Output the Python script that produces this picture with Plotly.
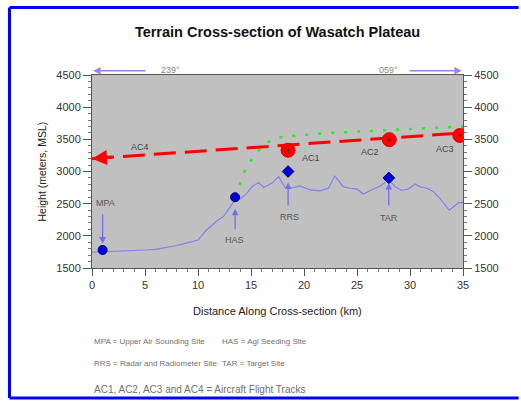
import plotly.graph_objects as go

# ---------------- data ----------------
terrain_km = [0, 1, 2, 3, 4, 5, 6, 7, 8, 9, 10, 10.8, 11.9, 12.4, 13.0, 13.5, 14.0, 14.6, 15.1,
              15.7, 16.2, 17.0, 17.6, 18.2, 18.8, 19.6, 20.6, 21.5, 22.3, 22.9, 23.7, 24.3,
              25.0, 25.6, 26.5, 27.2, 28.0, 28.6, 29.2, 29.8, 30.5, 30.9, 31.6, 32.2, 32.8,
              33.3, 33.7, 34.2, 34.6, 35]
terrain_m = [1745, 1750, 1760, 1770, 1775, 1780, 1790, 1815, 1850, 1890, 1935, 2090, 2246,
             2300, 2450, 2560, 2575, 2660, 2765, 2830, 2755, 2820, 2920, 2755, 2740, 2775,
             2713, 2700, 2740, 2930, 2765, 2740, 2725, 2650, 2725, 2775, 2870, 2765, 2705,
             2725, 2805, 2765, 2740, 2690, 2585, 2480, 2400, 2465, 2515, 2515]

site_names = ["MPA", "HAS", "RRS", "TAR"]
site_km = [1.0, 13.5, 18.5, 28.0]
site_m = [1780, 2600, 3000, 2900]
site_symbols = ["circle", "circle", "diamond", "diamond"]

ac4_km = [0, 35]
ac4_m = [3200, 3600]

ac_names = ["AC1", "AC2", "AC3"]
ac_km = [18.5, 28.05, 34.7]
ac_m = [3330, 3495, 3560]

green_km = [13.5, 14.5, 15.5, 16.5, 17.2, 19.0, 22.5, 27.0, 31.0, 35.0]
green_m = [2600, 3050, 3290, 3440, 3520, 3555, 3600, 3635, 3670, 3700]

x_ticks = [0, 5, 10, 15, 20, 25, 30, 35]
y_ticks = [1500, 2000, 2500, 3000, 3500, 4000, 4500]

legend_lines = [
    ("MPA = Upper Air Sounding Site", 0.0, -0.382, 8),
    ("HAS = Agl Seeding Site", 0.345, -0.382, 8),
    ("RRS = Radar and Radiometer Site", 0.0, -0.497, 8),
    ("TAR = Target Site", 0.345, -0.497, 8),
    ("AC1, AC2, AC3 and AC4 = Aircraft Flight Tracks", 0.0, -0.632, 10),
]

# ---------------- figure ----------------
fig = go.Figure()

fig.add_trace(go.Scatter(x=terrain_km, y=terrain_m, mode="lines",
                         line=dict(color="#8080f0", width=1.2), hoverinfo="skip"))

fig.add_trace(go.Scatter(x=green_km, y=green_m, mode="lines",
                         line=dict(color="#22ee22", width=2.5, dash="3px,10px"), hoverinfo="skip"))

fig.add_trace(go.Scatter(x=ac4_km, y=ac4_m, mode="lines",
                         line=dict(color="#ff0000", width=3, dash="22px,9px"), hoverinfo="skip"))

fig.add_trace(go.Scatter(x=site_km, y=site_m, mode="markers",
                         marker=dict(color="#0000dd", size=9, symbol=site_symbols,
                                     line=dict(color="#000080", width=1)), hoverinfo="skip"))

fig.add_trace(go.Scatter(x=ac_km, y=ac_m, mode="markers",
                         marker=dict(color="#ff0000", size=14, line=dict(color="#dd0000", width=1)),
                         hoverinfo="skip"))
fig.add_trace(go.Scatter(x=ac_km, y=ac_m, mode="markers",
                         marker=dict(color="#000000", size=2), hoverinfo="skip"))

# invisible trace for right axis
fig.add_trace(go.Scatter(x=[0], y=[1500], yaxis="y2", mode="markers",
                         marker=dict(opacity=0), hoverinfo="skip"))

ann = []
# AC4 arrow head at left
ann.append(dict(x=ac4_km[0], y=ac4_m[0], ax=2.0, ay=3223, axref="x", ayref="y",
                xref="x", yref="y", showarrow=True, arrowhead=2, arrowsize=1,
                arrowwidth=3, arrowcolor="#ff0000", text=""))

# site labels and arrows
label_pos = {"MPA": (1.3, 2510), "HAS": (13.4, 1935), "RRS": (18.6, 2300), "TAR": (28.0, 2275)}
arrow_pos = {"MPA": ((1.0, 1880), (1.0, 2360)), "HAS": ((13.5, 2420), (13.5, 2080)),
             "RRS": ((18.5, 2830), (18.5, 2450)), "TAR": ((28.0, 2820), (28.0, 2450))}
for n in site_names:
    lx, ly = label_pos[n]
    ann.append(dict(x=lx, y=ly, xref="x", yref="y", text=n, showarrow=False,
                    font=dict(size=9, color="#555555")))
    (hx, hy), (tx, ty) = arrow_pos[n]
    ann.append(dict(x=hx, y=hy, ax=tx, ay=ty, axref="x", ayref="y", xref="x", yref="y",
                    text="", showarrow=True, arrowhead=2, arrowsize=1, arrowwidth=1.3,
                    arrowcolor="#6f6ff0"))

ac_label_pos = {"AC1": (20.7, 3206), "AC2": (26.2, 3309), "AC3": (33.3, 3350), "AC4": (4.5, 3380)}
for n, (lx, ly) in ac_label_pos.items():
    ann.append(dict(x=lx, y=ly, xref="x", yref="y", text=n, showarrow=False,
                    font=dict(size=9, color="#444444")))

# direction arrows at top
for head, tail in [(0.003, 0.148), (0.997, 0.852)]:
    ann.append(dict(x=head, y=1.022, ax=tail, ay=1.022, xref="x domain", yref="y domain",
                    axref="x domain", ayref="y domain", text="", showarrow=True, arrowhead=2,
                    arrowsize=1, arrowwidth=1.5, arrowcolor="#a080ee"))
ann.append(dict(x=0.18, y=1.025, xref="paper", yref="paper", text="239°", showarrow=False,
                yanchor="middle", font=dict(size=9, color="#8a8a8a")))
ann.append(dict(x=0.83, y=1.025, xref="paper", yref="paper", text="059°", showarrow=False,
                yanchor="middle", font=dict(size=9, color="#8a8a8a")))

# axis titles
ann.append(dict(x=-0.159, y=0.5, xref="paper", yref="paper", text="Height (meters, MSL)",
                textangle=-90, showarrow=False, yanchor="middle",
                font=dict(size=10.5, color="#222222")))
ann.append(dict(x=0.5, y=-0.223, xref="paper", yref="paper", yanchor="middle",
                text="Distance Along Cross-section (km)", showarrow=False,
                font=dict(size=11, color="#222222")))

for t, x, y, s in legend_lines:
    ann.append(dict(x=x, y=y, xref="paper", yref="paper", text=t, showarrow=False,
                    xanchor="left", yanchor="middle", font=dict(size=s, color="#707070")))

# blue outer frame (open at right, as in the reference)
fx0, fx1, fy0, fy1 = -0.2224, 1.15, -0.6736, 1.3497
frame_line = dict(color="#0000ff", width=3)
shapes = [
    dict(type="line", xref="paper", yref="paper", x0=fx0, x1=fx1, y0=fy1, y1=fy1, line=frame_line),
    dict(type="line", xref="paper", yref="paper", x0=fx0, x1=fx1, y0=fy0, y1=fy0, line=frame_line),
    dict(type="line", xref="paper", yref="paper", x0=fx0, x1=fx0, y0=fy0, y1=fy1, line=frame_line),
]

axis_font = dict(family="Arial, Liberation Sans, sans-serif", size=11, color="#333333")

fig.update_layout(
    width=521, height=402,
    margin=dict(l=92, r=58, t=75, b=134),
    paper_bgcolor="white", plot_bgcolor="#c0c0c0",
    showlegend=False,
    font=dict(family="Arial, Liberation Sans, sans-serif"),
    title=dict(text="<b>Terrain Cross-section of Wasatch Plateau</b>", x=0.5, xref="paper",
               y=1 - 32 / 402, yref="container", yanchor="middle", xanchor="center",
               font=dict(size=14.5, color="#111111")),
    xaxis=dict(range=[0, 35], tickvals=x_ticks, ticktext=[str(v) for v in x_ticks],
               showgrid=False, zeroline=False, showline=True, linecolor="#555555",
               linewidth=1, mirror=True, ticks="outside", ticklen=7, tickcolor="#555555",
               tickfont=axis_font,
               minor=dict(dtick=1, ticks="outside", ticklen=3, tickcolor="#777777")),
    yaxis=dict(range=[1500, 4500], tickvals=y_ticks, showgrid=False, zeroline=False,
               showline=True, linecolor="#555555", linewidth=1, ticks="outside",
               ticklen=8, tickcolor="#555555", tickfont=axis_font,
               minor=dict(dtick=100, ticks="outside", ticklen=3, tickcolor="#777777")),
    yaxis2=dict(range=[1500, 4500], tickvals=y_ticks, overlaying="y", side="right",
                showgrid=False, zeroline=False, showline=True, linecolor="#555555",
                linewidth=1, ticks="outside", ticklen=8, tickcolor="#555555",
                tickfont=axis_font,
                minor=dict(dtick=100, ticks="outside", ticklen=3, tickcolor="#777777")),
    annotations=ann,
    shapes=shapes,
)

fig.write_html("out.html", config={"displayModeBar": False},
               post_script="document.body.style.margin='0px';document.body.style.overflow='hidden';")
